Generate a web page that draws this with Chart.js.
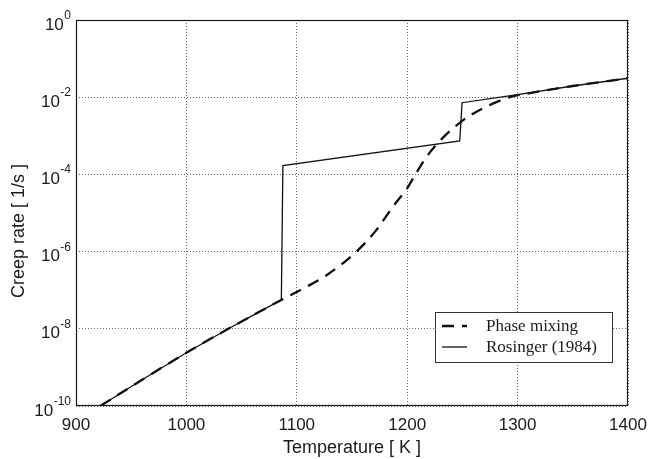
<!DOCTYPE html>
<html>
<head>
<meta charset="utf-8">
<script src="https://cdn.jsdelivr.net/npm/chart.js@4/dist/chart.umd.min.js"></script>
<style>
  html, body { margin: 0; padding: 0; background: #fff; }
  #wrap { width: 650px; height: 459px; }
</style>
</head>
<body>
<div id="wrap"><canvas id="chart" width="650" height="459"></canvas></div>
<script>
// ---- data ----
const phaseT = [922, 961, 1000, 1038, 1061, 1086, 1109, 1127, 1154, 1172, 1187, 1200, 1208, 1220, 1232, 1249, 1260, 1278, 1293, 1310, 1350, 1400];
const phaseRate = [1.0e-10, 5.0e-10, 2.4e-9, 1.0e-8, 2.3e-8, 5.6e-8, 1.23e-7, 2.45e-7, 1.0e-6, 3.6e-6, 1.45e-5, 4.4e-5, 1.07e-4, 3.55e-4, 8.7e-4, 2.34e-3, 3.8e-3, 6.9e-3, 1.0e-2, 1.26e-2, 1.95e-2, 3.1e-2];

const rosT = [922, 961, 1000, 1038, 1061, 1086, 1087.4, 1247.6, 1249.7, 1300, 1350, 1400];
const rosRate = [1.0e-10, 5.0e-10, 2.4e-9, 1.0e-8, 2.3e-8, 5.6e-8, 1.7e-4, 7.4e-4, 7.2e-3, 1.17e-2, 1.95e-2, 3.1e-2];

const xTicks = [900, 1000, 1100, 1200, 1300, 1400];
const yTickExp = ["0", "-2", "-4", "-6", "-8", "-10"];
const seriesNames = ["Phase mixing", "Rosinger (1984)"];

const ink = "#1a1a1a";
const sans = "'Liberation Sans', Arial, Helvetica, sans-serif";
const serif = "'Liberation Serif', 'Times New Roman', serif";

const toPts = (xs, ys) => xs.map((x, i) => ({ x: x, y: ys[i] }));

// frame, y labels (10 with raised exponent), axis titles, boxed legend
const decor = {
  id: "decor",
  beforeDraw(chart) {
    const c = chart.ctx;
    c.save();
    c.fillStyle = "#fff";
    c.fillRect(0, 0, chart.width, chart.height);
    c.restore();
  },
  afterDraw(chart) {
    const c = chart.ctx;
    const a = chart.chartArea;
    const ys = chart.scales.y;
    c.save();

    c.strokeStyle = ink;
    c.lineWidth = 1.2;
    c.strokeRect(a.left + 0.5, a.top + 0.5, a.right - a.left - 1, a.bottom - a.top - 1);

    // y tick labels
    c.fillStyle = ink;
    c.textBaseline = "alphabetic";
    yTickExp.forEach((e) => {
      const y = ys.getPixelForValue(Math.pow(10, Number(e)));
      c.font = "12px " + sans;
      const ew = c.measureText(e).width;
      const right = 71;
      c.textAlign = "left";
      c.fillText(e, right - ew, y - 1);
      c.font = "17px " + sans;
      c.textAlign = "right";
      c.fillText("10", right - ew - 0.5, y + 9.5);
    });

    // axis titles
    c.font = "18px " + sans;
    c.textAlign = "center";
    c.textBaseline = "middle";
    c.fillText("Temperature [ K ]", (a.left + a.right) / 2, 448);
    c.save();
    c.translate(19, 231);
    c.rotate(-Math.PI / 2);
    c.fillText("Creep rate [ 1/s ]", 0, 0);
    c.restore();

    // legend
    const lx = 435, ly = 312, lw = 177, lh = 50;
    c.fillStyle = "#fff";
    c.fillRect(lx, ly, lw, lh);
    c.strokeStyle = "#333";
    c.lineWidth = 1;
    c.strokeRect(lx + 0.5, ly + 0.5, lw, lh);
    const rows = [ly + 14, ly + 35];
    chart.data.datasets.forEach((ds, i) => {
      c.strokeStyle = ds.borderColor;
      c.lineWidth = ds.borderWidth;
      c.setLineDash(ds.borderDash || []);
      c.beginPath();
      c.moveTo(442, rows[i]);
      c.lineTo(467, rows[i]);
      c.stroke();
      c.setLineDash([]);
      c.fillStyle = ink;
      c.font = "17px " + serif;
      c.textAlign = "left";
      c.textBaseline = "middle";
      c.fillText(ds.label, 486, rows[i] + 1);
    });
    c.restore();
  }
};

new Chart(document.getElementById("chart"), {
  type: "line",
  data: {
    datasets: [
      {
        label: seriesNames[0],
        data: toPts(phaseT, phaseRate),
        borderColor: "#111",
        borderWidth: 2.3,
        borderDash: [12, 8],
        pointRadius: 0,
        fill: false,
        cubicInterpolationMode: "monotone"
      },
      {
        label: seriesNames[1],
        data: toPts(rosT, rosRate),
        borderColor: "#111",
        borderWidth: 1.3,
        pointRadius: 0,
        fill: false,
        tension: 0
      }
    ]
  },
  options: {
    responsive: false,
    animation: false,
    devicePixelRatio: 1,
    layout: { padding: { top: 20, right: 22, left: 0, bottom: 0 } },
    plugins: { legend: { display: false }, tooltip: { enabled: false } },
    scales: {
      x: {
        type: "linear",
        min: 900,
        max: 1400,
        afterBuildTicks: (s) => { s.ticks = xTicks.map((v) => ({ value: v })); },
        afterFit: (s) => { s.height = 53; s.paddingLeft = 0; s.paddingRight = 0; },
        ticks: {
          color: ink,
          font: { family: sans, size: 17 },
          padding: 9,
          maxRotation: 0,
          callback: (v) => String(v)
        },
        grid: { color: "#666", lineWidth: 1, drawTicks: false },
        border: { display: false, dash: [1, 2] }
      },
      y: {
        type: "logarithmic",
        min: 1e-10,
        max: 1,
        afterBuildTicks: (s) => { s.ticks = yTickExp.map((e) => ({ value: Math.pow(10, Number(e)) })); },
        afterFit: (s) => { s.width = 76; s.paddingTop = 0; s.paddingBottom = 0; },
        ticks: { display: false },
        grid: { color: "#666", lineWidth: 1, drawTicks: false },
        border: { display: false, dash: [1, 2] }
      }
    }
  },
  plugins: [decor]
});
</script>
</body>
</html>
